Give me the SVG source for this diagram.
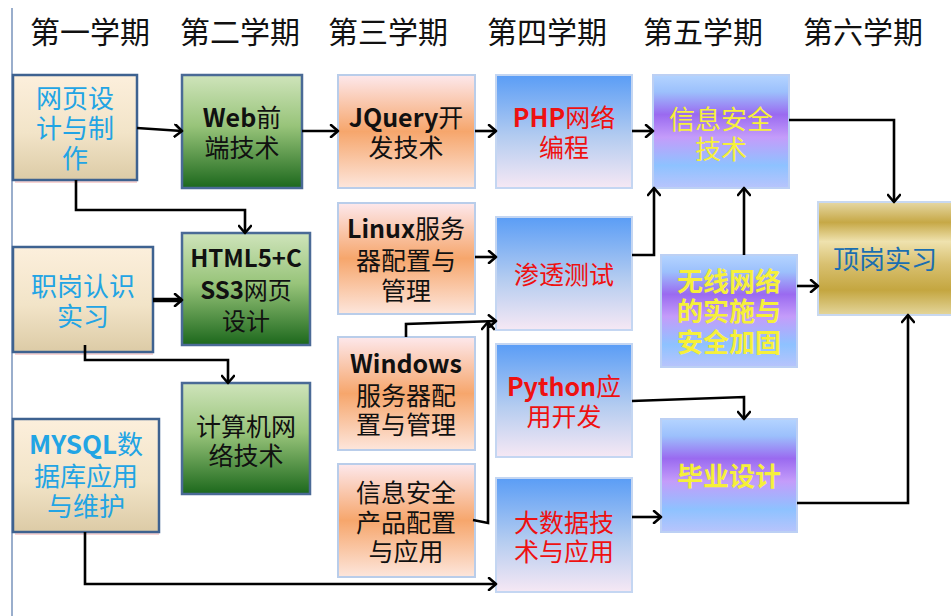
<svg xmlns="http://www.w3.org/2000/svg" width="951" height="616" viewBox="0 0 951 616">
<defs>
<linearGradient id="gCream" x1="0" y1="0" x2="0" y2="1">
<stop offset="0" stop-color="#fcefdc"/><stop offset="0.55" stop-color="#f2e4c8"/><stop offset="1" stop-color="#dccba6"/>
</linearGradient>
<linearGradient id="gGreen" x1="0" y1="0" x2="0" y2="1">
<stop offset="0" stop-color="#cfe4bb"/><stop offset="0.45" stop-color="#98c47a"/><stop offset="1" stop-color="#1c681c"/>
</linearGradient>
<linearGradient id="gOrange" x1="0" y1="0" x2="0" y2="1">
<stop offset="0" stop-color="#fde8ec"/><stop offset="0.5" stop-color="#f6a66c"/><stop offset="1" stop-color="#fde6dc"/>
</linearGradient>
<linearGradient id="gBlue" x1="0" y1="0" x2="0" y2="1">
<stop offset="0" stop-color="#5a9df6"/><stop offset="0.55" stop-color="#b4ccf0"/><stop offset="1" stop-color="#f6e8f4"/>
</linearGradient>
<linearGradient id="gPurple" x1="0" y1="0" x2="0" y2="1">
<stop offset="0" stop-color="#b4d4ff"/><stop offset="0.15" stop-color="#9cc0fc"/><stop offset="0.35" stop-color="#9a6af0"/><stop offset="0.55" stop-color="#c49cfa"/><stop offset="0.8" stop-color="#8ec2ff"/><stop offset="1" stop-color="#b8c4fc"/>
</linearGradient>
<linearGradient id="gGold" x1="0" y1="0" x2="0" y2="1">
<stop offset="0" stop-color="#e6d8a4"/><stop offset="0.18" stop-color="#c6a846"/><stop offset="0.35" stop-color="#efe2ae"/><stop offset="0.55" stop-color="#d8c070"/><stop offset="0.78" stop-color="#c4a640"/><stop offset="1" stop-color="#e4d69c"/>
</linearGradient>
<marker id="arr" markerUnits="userSpaceOnUse" markerWidth="14" markerHeight="14" viewBox="0 0 14 14" refX="12" refY="7" orient="auto">
<path d="M5,1 L12,7 L5,13" fill="none" stroke="#000" stroke-width="2.6" stroke-linecap="round" stroke-linejoin="round"/>
</marker>
</defs>
<style>
text{font-family:"Noto Sans CJK SC","Liberation Sans",sans-serif;text-anchor:middle}
.hd{font-size:30px;fill:#111;text-anchor:start}
.t{font-size:25px}
.c1 rect.b{fill:url(#gCream);stroke:#3e6290;stroke-width:2.5}
.c1 text{fill:#22a4e4;font-size:26px}
.c2 rect.b{fill:url(#gGreen);stroke:#4a6a96;stroke-width:2.5}
.c2 text{fill:#111}
.c3 rect.b{fill:url(#gOrange);stroke:#b9cdea;stroke-width:2}
.c3 text{fill:#111}
.c4 rect.b{fill:url(#gBlue);stroke:#c4d6f2;stroke-width:2}
.c4 text{fill:#ee1111}
.c5 rect.b{fill:url(#gPurple);stroke:#bcd0f4;stroke-width:2}
.c5 text{fill:#f6f03a;font-size:26px}
.c6 rect.b{fill:url(#gGold);stroke:#c8d8f0;stroke-width:2}
.c6 text{fill:#1a6eb0;font-size:26px}
.sh{fill:#f0b0b0;opacity:0.55}
.lat{font-weight:bold}
#connectors path{fill:none;stroke:#000;stroke-width:2.6;stroke-linejoin:miter}
</style>
<rect x="0" y="0" width="951" height="616" fill="#ffffff"/>
<line x1="12" y1="8" x2="12" y2="616" stroke="#9aaecc" stroke-width="2"/>
<g id="headers">
<text class="hd" x="30" y="43">第一学期</text>
<text class="hd" x="180" y="43">第二学期</text>
<text class="hd" x="328" y="43">第三学期</text>
<text class="hd" x="487" y="43">第四学期</text>
<text class="hd" x="643" y="43">第五学期</text>
<text class="hd" x="803" y="43">第六学期</text>
</g>
<g id="n1" class="c1"><rect class="sh" x="15" y="179" width="122" height="4"/><rect class="b" x="13" y="75" width="124" height="105"/>
<text x="75" y="108">网页设<tspan x="75" dy="30">计与制</tspan><tspan x="75" dy="30">作</tspan></text></g>
<g id="n4" class="c1"><rect class="sh" x="15" y="351" width="138" height="4"/><rect class="b" x="13" y="247" width="140" height="105"/>
<text x="83" y="296">职岗认识<tspan x="83" dy="30">实习</tspan></text></g>
<g id="n6" class="c1"><rect class="sh" x="15" y="531" width="144" height="4"/><rect class="b" x="13" y="419" width="146" height="113"/>
<text x="86" y="454"><tspan class="lat">MYSQL</tspan>数<tspan x="86" dy="32">据库应用</tspan><tspan x="86" dy="30">与维护</tspan></text></g>
<g id="n2" class="c2 t"><rect class="b" x="182" y="75" width="120" height="113"/>
<text x="242" y="127"><tspan class="lat">Web</tspan>前<tspan x="242" dy="30">端技术</tspan></text></g>
<g id="n3" class="c2 t"><rect class="b" x="182" y="233" width="128" height="112"/>
<text x="246" y="267" style="font-size:24px"><tspan class="lat">HTML5+C</tspan><tspan x="246" dy="32" class="lat">SS3</tspan><tspan>网页</tspan><tspan x="246" dy="31">设计</tspan></text></g>
<g id="n5" class="c2 t"><rect class="b" x="182" y="383" width="128" height="111"/>
<text x="246" y="436">计算机网<tspan x="246" dy="29">络技术</tspan></text></g>
<g id="n7" class="c3 t"><rect class="b" x="338" y="75" width="137" height="113"/>
<text x="406" y="127"><tspan class="lat">JQuery</tspan>开<tspan x="406" dy="30">发技术</tspan></text></g>
<g id="n8" class="c3 t"><rect class="b" x="338" y="203" width="137" height="111"/>
<text x="406" y="238"><tspan class="lat">Linux</tspan>服务<tspan x="406" dy="32">器配置与</tspan><tspan x="406" dy="30">管理</tspan></text></g>
<g id="n9" class="c3 t"><rect class="b" x="338" y="337" width="137" height="113"/>
<text x="406" y="373"><tspan class="lat">Windows</tspan><tspan x="406" dy="32">服务器配</tspan><tspan x="406" dy="29">置与管理</tspan></text></g>
<g id="n10" class="c3 t"><rect class="b" x="338" y="464" width="137" height="113"/>
<text x="406" y="502">信息安全<tspan x="406" dy="30">产品配置</tspan><tspan x="406" dy="29">与应用</tspan></text></g>
<g id="n11" class="c4 t"><rect class="b" x="496" y="75" width="136" height="113"/>
<text x="564" y="127"><tspan class="lat">PHP</tspan>网络<tspan x="564" dy="30">编程</tspan></text></g>
<g id="n12" class="c4 t"><rect class="b" x="496" y="217" width="136" height="113"/>
<text x="564" y="284">渗透测试</text></g>
<g id="n13" class="c4 t"><rect class="b" x="496" y="344" width="136" height="113"/>
<text x="564" y="396"><tspan class="lat">Python</tspan>应<tspan x="564" dy="30">用开发</tspan></text></g>
<g id="n14" class="c4 t"><rect class="b" x="496" y="478" width="136" height="114"/>
<text x="564" y="532">大数据技<tspan x="564" dy="29">术与应用</tspan></text></g>
<g id="n15" class="c5"><rect class="b" x="653" y="75" width="136" height="113"/>
<text x="721" y="129">信息安全<tspan x="721" dy="30">技术</tspan></text></g>
<g id="n16" class="c5"><rect class="b" x="661" y="255" width="136" height="112"/>
<text x="729" y="291" font-weight="bold">无线网络<tspan x="729" dy="30">的实施与</tspan><tspan x="729" dy="31">安全加固</tspan></text></g>
<g id="n17" class="c5"><rect class="b" x="661" y="419" width="136" height="113"/>
<text x="729" y="486" font-weight="bold">毕业设计</text></g>
<g id="n18" class="c6"><rect class="b" x="818" y="202" width="140" height="113"/>
<text x="885" y="269">顶岗实习</text></g>
<g id="connectors">
<path d="M137,128 L182,131" marker-end="url(#arr)"/>
<path d="M76,180 V210 H245 V233" marker-end="url(#arr)"/>
<path d="M302,131 H338" marker-end="url(#arr)"/>
<path d="M475,131 H496" marker-end="url(#arr)"/>
<path d="M632,131 H653" marker-end="url(#arr)"/>
<path d="M153,300 H182" marker-end="url(#arr)" style="stroke-width:4.5"/>
<path d="M85,345 V360 H228 V383" marker-end="url(#arr)"/>
<path d="M85,532 V584 H496" marker-end="url(#arr)"/>
<path d="M475,257 H496" marker-end="url(#arr)"/>
<path d="M406,337 V324 L496,321" marker-end="url(#arr)"/>
<path d="M473,520 L488,523 V322" marker-end="url(#arr)"/>
<path d="M632,255 H654 V188" marker-end="url(#arr)"/>
<path d="M744,255 V188" marker-end="url(#arr)"/>
<path d="M797,286 H818" marker-end="url(#arr)"/>
<path d="M789,120 H894 V202" marker-end="url(#arr)"/>
<path d="M632,401 L744,397 V419" marker-end="url(#arr)"/>
<path d="M632,517 H661" marker-end="url(#arr)"/>
<path d="M797,503 H908 V315" marker-end="url(#arr)"/>
</g>
</svg>
